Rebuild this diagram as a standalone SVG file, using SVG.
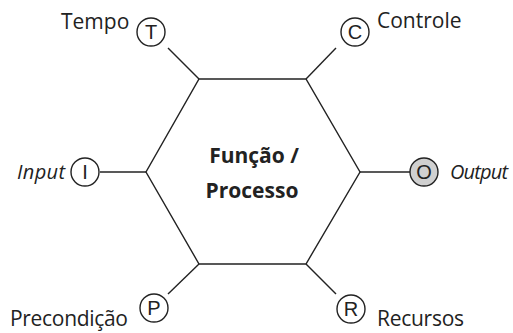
<svg xmlns="http://www.w3.org/2000/svg" width="513" height="333" viewBox="0 0 513 333">
<style>
.ln{stroke:#222;stroke-width:1.4;fill:none}
.c{stroke:#222;stroke-width:1.4;fill:#fff}
.lbl{font-family:"Open Sans","DejaVu Sans",sans-serif;font-size:21px;fill:#222}
.it{font-style:italic;font-size:20px}
.ltr{font-family:"Liberation Sans",Arial,sans-serif;font-size:20px;fill:#222;text-anchor:middle}
.ctr{font-family:"Open Sans","DejaVu Sans",sans-serif;font-weight:bold;font-size:21px;fill:#222;text-anchor:middle}
</style>
<rect width="513" height="333" fill="#fff"/>
<g id="connectors">
<line class="ln" x1="168" y1="48" x2="199" y2="79"/>
<line class="ln" x1="336" y1="48" x2="306" y2="79"/>
<line class="ln" x1="100" y1="172" x2="146" y2="172"/>
<line class="ln" x1="360" y1="172" x2="410" y2="172"/>
<line class="ln" x1="168" y1="294" x2="199" y2="264"/>
<line class="ln" x1="336" y1="294" x2="306" y2="264"/>
</g>
<g id="process">
<polygon class="ln" points="199,79 306,79 360,172 306,264 199,264 146,172"/>
<text class="ctr" x="254" y="163">Função /</text>
<text class="ctr" x="252" y="198">Processo</text>
</g>
<g id="tempo">
<circle class="c" cx="151" cy="32" r="14"/>
<text class="ltr" x="151" y="39">T</text>
<text class="lbl" x="61" y="29">Tempo</text>
</g>
<g id="controle">
<circle class="c" cx="355" cy="32" r="14"/>
<text class="ltr" x="355" y="39">C</text>
<text class="lbl" x="377" y="28">Controle</text>
</g>
<g id="input">
<circle class="c" cx="85" cy="172" r="14"/>
<text class="ltr" x="85" y="179">I</text>
<text class="lbl it" x="17" y="179" textLength="48">Input</text>
</g>
<g id="output">
<circle class="c" cx="424" cy="172" r="14" style="fill:#d0d0d0"/>
<text class="ltr" x="424" y="179">O</text>
<text class="lbl it" x="450" y="179" textLength="58">Output</text>
</g>
<g id="precondicao">
<circle class="c" cx="154" cy="308" r="14"/>
<text class="ltr" x="154" y="315">P</text>
<text class="lbl" x="10" y="326" textLength="118">Precondição</text>
</g>
<g id="recursos">
<circle class="c" cx="351" cy="309" r="14"/>
<text class="ltr" x="351" y="316">R</text>
<text class="lbl" x="377" y="326" textLength="87">Recursos</text>
</g>
</svg>
